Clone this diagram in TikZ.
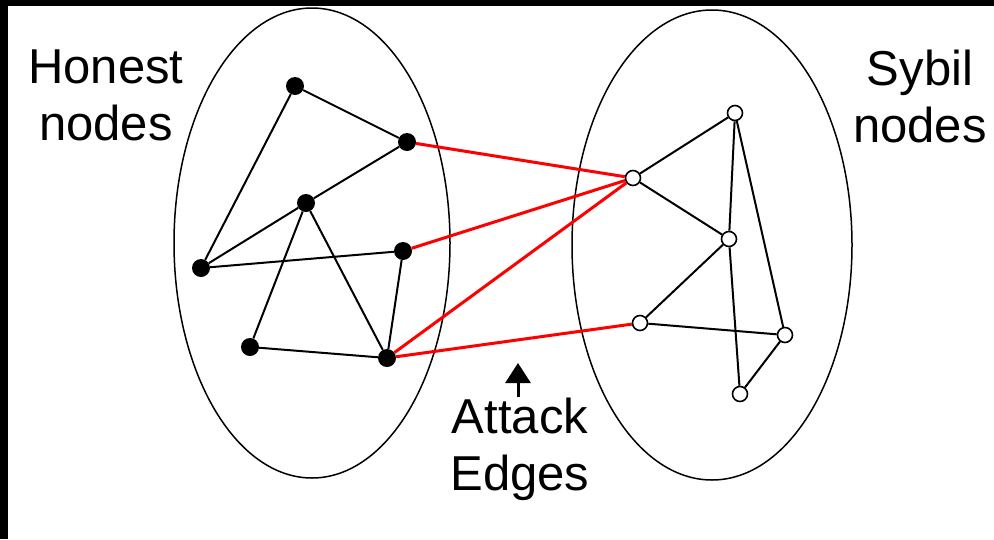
\documentclass[tikz,border=0pt]{standalone}
\usepackage{fontspec}
\setmainfont{Liberation Sans}
\usetikzlibrary{arrows.meta}
\begin{document}
\begin{tikzpicture}[x=1pt,y=-1pt,
  honest/.style={circle,fill=black,inner sep=0pt,minimum size=18pt},
  sybil/.style={circle,draw=black,line width=1.6pt,fill=white,inner sep=0pt,minimum size=15pt},
  edge/.style={draw=black,line width=2pt},
  attack/.style={draw=red,line width=3pt},
  region/.style={draw=black,line width=1.5pt},
  lbl/.style={font=\fontsize{49}{57}\selectfont,align=center,inner sep=0pt,anchor=base}]
\useasboundingbox (0,0) rectangle (994,539);
\fill[white] (0,0) rectangle (994,539);
\fill[black] (0,0) rectangle (994,6);
\fill[black] (0,0) rectangle (8,539);
% regions
\draw[region] (312,243) ellipse [x radius=138, y radius=235];
\draw[region] (712,245) ellipse [x radius=140, y radius=235];
% honest nodes
\node[honest] (A) at (295,86) {};
\node[honest] (B) at (407,142) {};
\node[honest] (C) at (306,203) {};
\node[honest] (D) at (201,268) {};
\node[honest] (E) at (403,251) {};
\node[honest] (F) at (250,347) {};
\node[honest] (G) at (387,358) {};
% sybil nodes
\node[sybil] (S1) at (735,113) {};
\node[sybil] (S2) at (633,178) {};
\node[sybil] (S3) at (729,239) {};
\node[sybil] (S4) at (640,323) {};
\node[sybil] (S5) at (785,335) {};
\node[sybil] (S6) at (740,394) {};
% honest edges
\draw[edge] (A) -- (B);
\draw[edge] (A) -- (D);
\draw[edge] (B) -- (C);
\draw[edge] (C) -- (D);
\draw[edge] (D) -- (E);
\draw[edge] (C) -- (F);
\draw[edge] (C) -- (G);
\draw[edge] (E) -- (G);
\draw[edge] (F) -- (G);
% sybil edges
\draw[edge] (S2) -- (S1);
\draw[edge] (S2) -- (S3);
\draw[edge] (S1) -- (S3);
\draw[edge] (S1) -- (S5);
\draw[edge] (S3) -- (S4);
\draw[edge] (S3) -- (S6);
\draw[edge] (S4) -- (S5);
\draw[edge] (S5) -- (S6);
% attack edges
\draw[attack] (B) -- (S2);
\draw[attack] (E) -- (S2);
\draw[attack] (G) -- (S2);
\draw[attack] (G) -- (S4);
% labels
\node[lbl] (hon) at (106,140) {Honest\\nodes};
\node[lbl] (syb) at (920,142) {Sybil\\nodes};
\node[lbl] (att) at (520,490) {Attack\\Edges};
\coordinate (tip) at (518,363);
\draw[line width=3pt,-{Triangle[width=25pt,length=20pt]}] (att.north -| tip) -- (tip);
\end{tikzpicture}
\end{document}
